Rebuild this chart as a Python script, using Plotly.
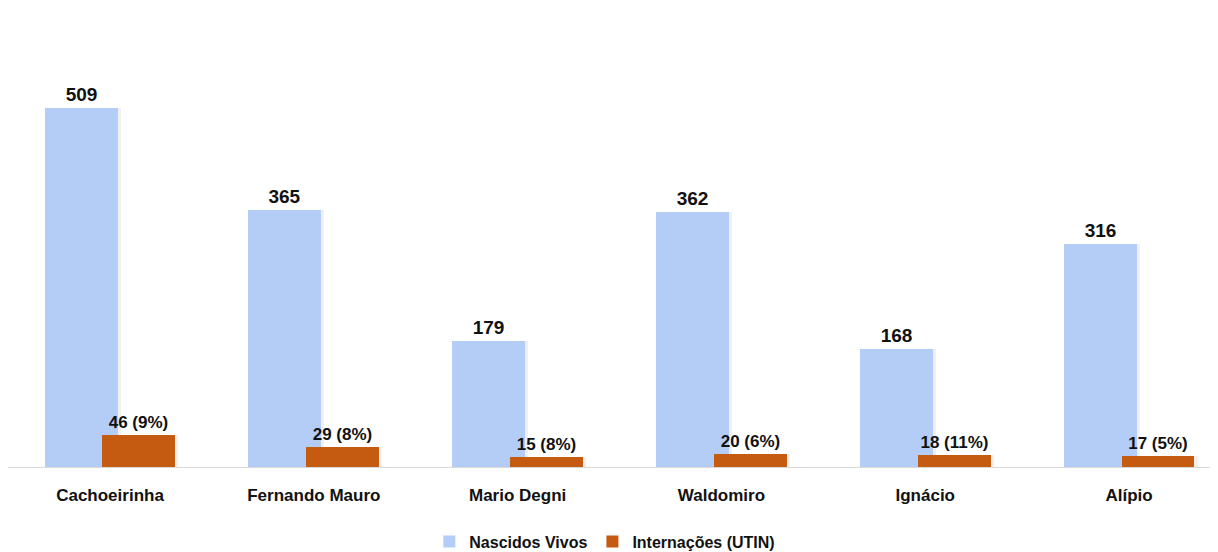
import plotly.graph_objects as go

categories = ["Cachoeirinha", "Fernando Mauro", "Mario Degni", "Waldomiro", "Ignácio", "Alípio"]
nascidos_vivos = [509, 365, 179, 362, 168, 316]
internacoes = [46, 29, 15, 20, 18, 17]
internacoes_pct = [9, 8, 8, 6, 11, 5]

BLUE = "#b4cdf7"
ORANGE = "#c55a11"
FONT = "Liberation Sans, Arial, sans-serif"

W = 0.358
OFF_B = -0.321
OFF_O = -0.037
SH = 0.015

fig = go.Figure()

# soft shadows
fig.add_trace(go.Bar(x=categories, y=nascidos_vivos, width=W, offset=OFF_B + SH,
                     marker=dict(color="rgba(0,0,0,0.06)", line=dict(width=0)),
                     showlegend=False, hoverinfo="skip"))
fig.add_trace(go.Bar(x=categories, y=internacoes, width=W, offset=OFF_O + SH,
                     marker=dict(color="rgba(0,0,0,0.06)", line=dict(width=0)),
                     showlegend=False, hoverinfo="skip"))

fig.add_trace(go.Bar(
    name="Nascidos Vivos", x=categories, y=nascidos_vivos, width=W, offset=OFF_B,
    marker=dict(color=BLUE, line=dict(width=0)),
    text=[str(v) for v in nascidos_vivos], textposition="outside",
    textfont=dict(family=FONT, size=19, color="#111111", weight="bold"), cliponaxis=False,
))
fig.add_trace(go.Bar(
    name="Internações (UTIN)", x=categories, y=internacoes, width=W, offset=OFF_O,
    marker=dict(color=ORANGE, line=dict(width=0)),
    text=[f"{v} ({p}%)" for v, p in zip(internacoes, internacoes_pct)], textposition="outside",
    textfont=dict(family=FONT, size=17, color="#111111", weight="bold"), cliponaxis=False,
))

fig.add_shape(type="line", xref="paper", yref="y", x0=0.0, x1=0.998, y0=0, y1=0,
              line=dict(color="#d9d9d9", width=2), layer="above")

fig.update_layout(
    width=1218, height=552,
    barmode="overlay",
    paper_bgcolor="white", plot_bgcolor="white",
    margin=dict(l=0, r=0, t=32, b=92),
    font=dict(family=FONT, color="#111111"),
    xaxis=dict(type="category", range=[-0.5005, 5.4757], showgrid=False, zeroline=False,
               showline=False, ticks="", ticklabelstandoff=15,
               tickfont=dict(family=FONT, size=17, color="#111111", weight="bold")),
    yaxis=dict(range=[0, 605], visible=False, showgrid=False, zeroline=False),
    legend=dict(orientation="h", x=0.49, xanchor="center", y=-0.172, yanchor="middle",
                font=dict(family=FONT, size=16, color="#111111", weight="bold"),
                itemwidth=30, tracegroupgap=0),
    bargap=0,
)

fig.write_html("out.html")
